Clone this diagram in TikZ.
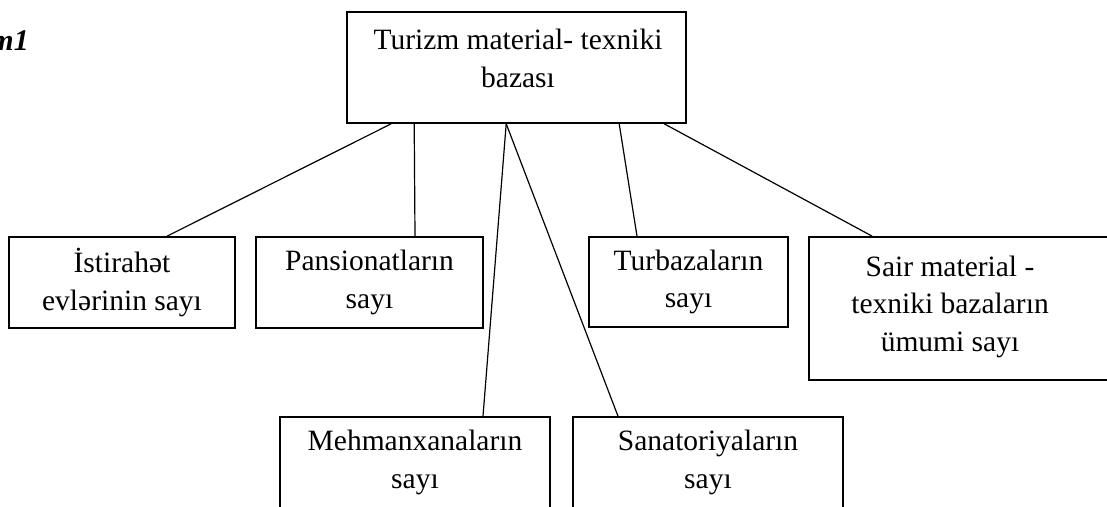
\documentclass[tikz,border=0pt]{standalone}
\usepackage{fontspec}
\setmainfont{Liberation Serif}
\tikzset{
	box/.style={draw, line width=1.6pt, inner sep=0pt, align=center, font=\fontsize{29.5}{37.5}\selectfont},
	link/.style={line width=1.2pt},
}
\begin{document}
\begin{tikzpicture}[x=1pt, y=-1pt]
			\useasboundingbox (0,0) rectangle (1107,506);

			\node[font=\fontsize{30}{36}\selectfont\bfseries\itshape, inner sep=0pt, anchor=base east] (sxem) at (29,50){m1};

			\node[box, minimum width=339pt, minimum height=111pt] (top) at (516.5,67.5){};
			\node[box, draw=none] (toptext) at (518,58.5){Turizm material- texniki\\bazası};

			\node[box, minimum width=226pt, minimum height=91pt] (ist) at (122,282.5){İstirahət\\evlərinin sayı};
			\node[box, minimum width=227pt, minimum height=91pt] (pans) at (369.5,282.5){Pansionatların\\sayı};
			\node[box, minimum width=199pt, minimum height=90pt] (turb) at (688.5,282){Turbazaların\\sayı};
			\node[box, minimum width=301pt, minimum height=143pt] (sair) at (959.5,308.5){};
			\node[box, draw=none] (sairtext) at (950,306.7){Sair material -\\texniki bazaların\\ümumi sayı};

			\node[box, minimum width=270pt, minimum height=91pt] (mehm) at (415,462.5){Mehmanxanaların\\sayı};
			\node[box, minimum width=270pt, minimum height=91pt] (sana) at (708,462.5){Sanatoriyaların\\sayı};


			\draw[link] ([xshift=45pt]top.south west) to ([xshift=45pt]ist.north);
			\draw[link] ([xshift=68pt]top.south west) to ([xshift=45.5pt]pans.north);
			\draw[link] ([xshift=160pt]top.south west) to ([xshift=68pt]mehm.north);
			\draw[link] ([xshift=160pt]top.south west) to ([xshift=-90pt]sana.north);
			\draw[link] ([xshift=273pt]top.south west) to ([xshift=-51.5pt]turb.north);
			\draw[link] ([xshift=318pt]top.south west) to ([xshift=64pt]sair.north west);
		\end{tikzpicture}
\end{document}
